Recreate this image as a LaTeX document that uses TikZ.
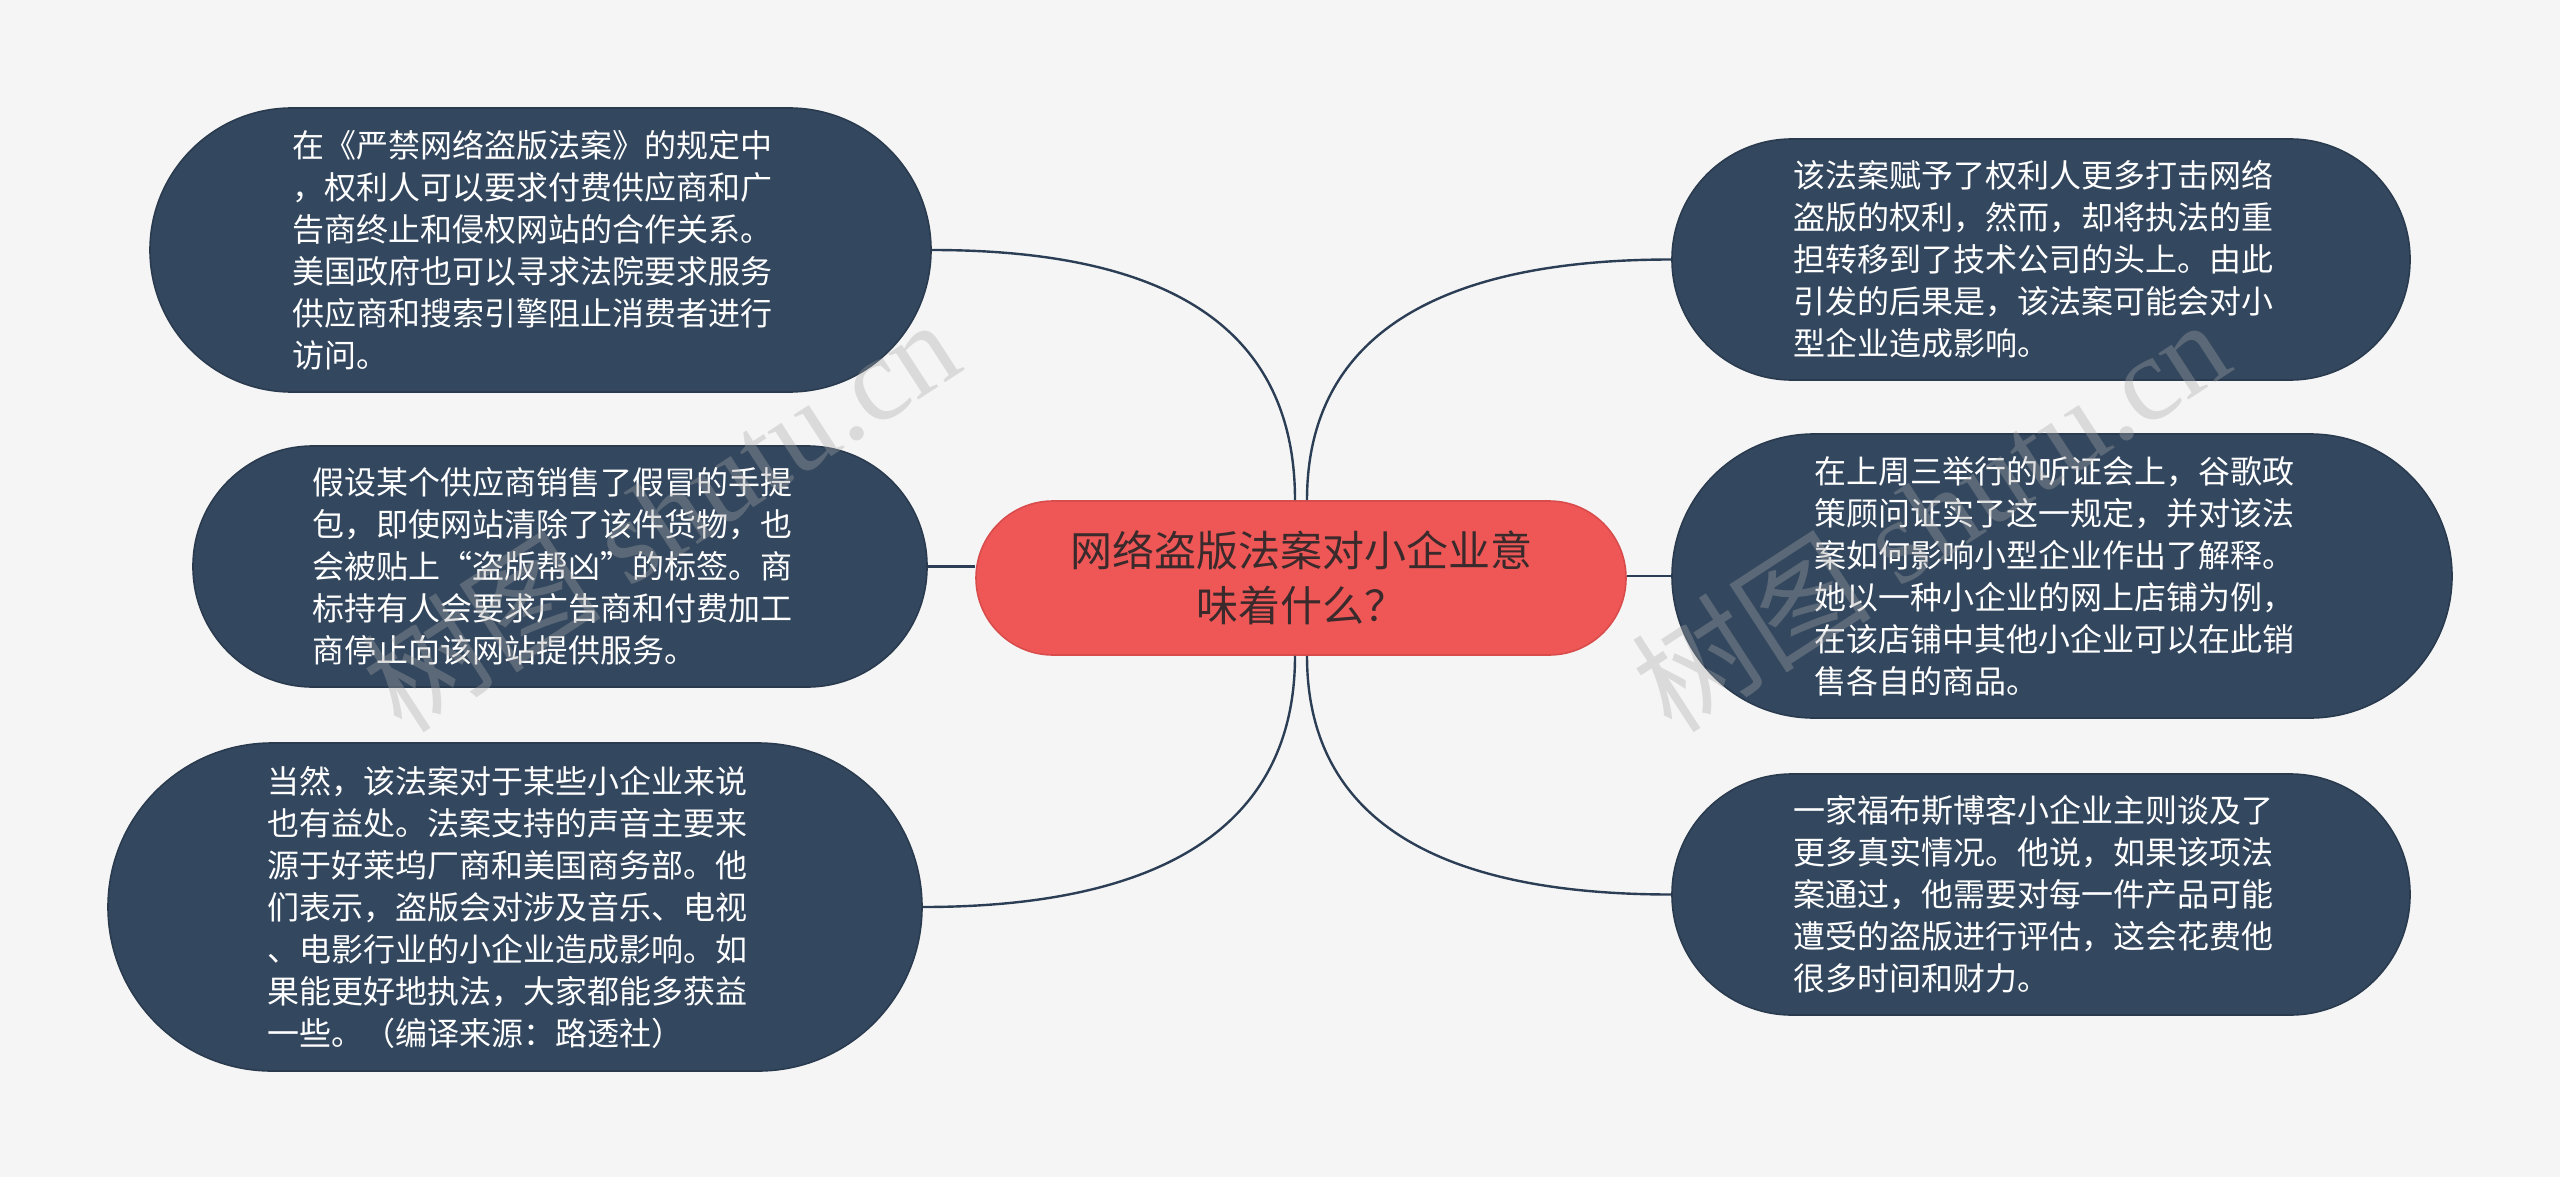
\documentclass[tikz,border=0pt]{standalone}
\usepackage{fontspec}
\newfontfamily\cjk{Noto Sans CJK SC}
\newfontfamily\wmserif{Liberation Serif}
\definecolor{bgcol}{HTML}{F5F5F5}
\definecolor{nodefill}{HTML}{33475E}
\definecolor{nodeborder}{HTML}{2A3B4F}
\definecolor{centerfill}{HTML}{EF5757}
\definecolor{centerborder}{HTML}{D94C4C}
\definecolor{centertext}{HTML}{3A2A2C}
\definecolor{linkcol}{HTML}{2C3E55}
\definecolor{wmcol}{HTML}{A8A8A8}
\tikzset{
  topic/.style={draw=nodeborder, fill=nodefill, line width=0.8pt, text=white,
    font=\cjk\fontsize{16}{21}\selectfont, align=left, text width=248pt, inner sep=0pt},
  rootnode/.style={draw=centerborder, fill=centerfill, line width=0.8pt, text=centertext,
    font=\cjk\fontsize{21}{27.5}\selectfont, align=center, inner sep=0pt,
    minimum width=325pt, minimum height=77pt, rounded corners=38.5pt},
  link/.style={draw=linkcol, line width=1.2pt},
  wmark/.style={text=wmcol, opacity=0.35, rotate=33, inner sep=0pt}
}
\begin{document}
\begin{tikzpicture}[x=0.5pt,y=-0.5pt]
\fill[bgcol] (0,0) rectangle (2560,1177);
\useasboundingbox (0,0) rectangle (2560,1177);

\node[rootnode] (c) at (1301,578) {网络盗版法案对小企业意\\味着什么？};

\node[topic, minimum width=390.5pt, minimum height=142pt, rounded corners=71pt] (l1) at (540.5,250)
 {在《严禁网络盗版法案》的规定中\\，权利人可以要求付费供应商和广\\告商终止和侵权网站的合作关系。\\美国政府也可以寻求法院要求服务\\供应商和搜索引擎阻止消费者进行\\访问。};
\node[topic, minimum width=367pt, minimum height=120.5pt, rounded corners=60pt] (l2) at (560,566.5)
 {假设某个供应商销售了假冒的手提\\包，即使网站清除了该件货物，也\\会被贴上“盗版帮凶”的标签。商\\标持有人会要求广告商和付费加工\\商停止向该网站提供服务。};
\node[topic, minimum width=407pt, minimum height=164pt, rounded corners=82pt] (l3) at (515,907)
 {当然，该法案对于某些小企业来说\\也有益处。法案支持的声音主要来\\源于好莱坞厂商和美国商务部。他\\们表示，盗版会对涉及音乐、电视\\、电影行业的小企业造成影响。如\\果能更好地执法，大家都能多获益\\一些。（编译来源：路透社）};

\node[topic, minimum width=369pt, minimum height=120.5pt, rounded corners=60pt] (r1) at (2041,259.5)
 {该法案赋予了权利人更多打击网络\\盗版的权利，然而，却将执法的重\\担转移到了技术公司的头上。由此\\引发的后果是，该法案可能会对小\\型企业造成影响。};
\node[topic, minimum width=390pt, minimum height=142pt, rounded corners=71pt] (r2) at (2062,576)
 {在上周三举行的听证会上，谷歌政\\策顾问证实了这一规定，并对该法\\案如何影响小型企业作出了解释。\\她以一种小企业的网上店铺为例，\\在该店铺中其他小企业可以在此销\\售各自的商品。};
\node[topic, minimum width=369pt, minimum height=120.5pt, rounded corners=60pt] (r3) at (2041,894.5)
 {一家福布斯博客小企业主则谈及了\\更多真实情况。他说，如果该项法\\案通过，他需要对每一件产品可能\\遭受的盗版进行评估，这会花费他\\很多时间和财力。};

\path[link] ([xshift=-3pt]c.north) .. controls +(0,-170) and +(240,0) .. (l1.east);
\path[link] (l2.east) -- (l2.east -| c.west);
\path[link] ([xshift=-3pt]c.south) .. controls +(0,170) and +(240,0) .. (l3.east);
\path[link] ([xshift=3pt]c.north) .. controls +(0,-160) and +(-240,0) .. (r1.west);
\path[link] (r2.west) -- (r2.west -| c.east);
\path[link] ([xshift=3pt]c.south) .. controls +(0,160) and +(-240,0) .. (r3.west);

\node[wmark] (wm1) at (660,514) {\fontsize{60}{60}\selectfont\cjk 树图\wmserif\ shutu.cn};
\node[wmark] (wm2) at (1930,514) {\fontsize{60}{60}\selectfont\cjk 树图\wmserif\ shutu.cn};
\end{tikzpicture}
\end{document}
